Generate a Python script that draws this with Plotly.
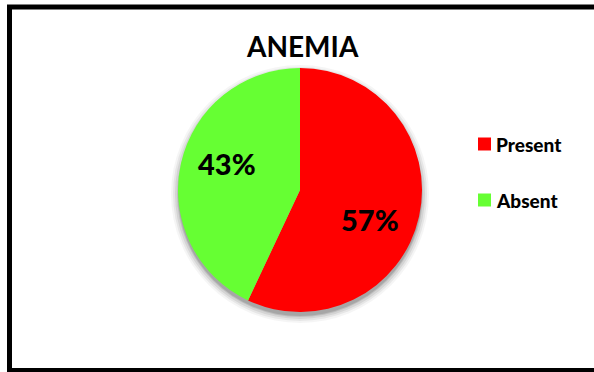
import plotly.graph_objects as go

# Anemia status share (percent)
labels = ["Present", "Absent"]
values = [57, 43]
colors = ["#FF0000", "#66FF33"]
title_text = "ANEMIA"

W, H = 594, 372
FONT = "Lato"


def px(x):
    return x / W


def py(y):
    return 1 - y / H


# pie placement in pixels: centre and radius
cx, cy, r = 300, 190, 122

fig = go.Figure()
fig.add_trace(go.Pie(
    labels=labels,
    values=values,
    marker=dict(colors=colors, line=dict(width=0)),
    sort=False,
    direction="clockwise",
    rotation=0,
    textinfo="none",
    hoverinfo="label+percent",
    showlegend=False,
    domain=dict(x=[px(cx - r), px(cx + r)], y=[py(cy + r), py(cy - r)]),
))

shapes = []
# soft drop shadow under the pie
for grow, op in [(7, 0.04), (5, 0.06), (3, 0.08), (1, 0.10), (0, 0.12)]:
    rr = r + grow
    shapes.append(dict(
        type="circle", xref="paper", yref="paper", layer="below",
        x0=px(cx - rr), x1=px(cx + rr),
        y0=py(cy + 4 + rr), y1=py(cy + 4 - rr),
        fillcolor=f"rgba(0,0,0,{op})", line=dict(width=0),
    ))

# outer frame
shapes.append(dict(
    type="rect", xref="paper", yref="paper",
    x0=px(9.5), x1=px(600), y0=py(370.5), y1=py(7),
    line=dict(color="black", width=5), fillcolor="rgba(0,0,0,0)",
))

annotations = [
    dict(text=f"<b>{title_text}</b>", x=px(302), y=py(46), xref="paper", yref="paper",
         xanchor="center", yanchor="middle", showarrow=False,
         font=dict(family=FONT, size=28, color="black", weight=900)),
]

# percentage labels inside the slices
label_pos = [(370, 219), (227, 163)]
for v, (lx, ly) in zip(values, label_pos):
    annotations.append(dict(
        text=f"{v}%", x=px(lx), y=py(ly), xref="paper", yref="paper",
        xanchor="center", yanchor="middle", showarrow=False,
        font=dict(family=FONT, size=29, color="black", weight=900),
    ))

# legend entries
legend_y = [144, 200]
for lab, col, ly in zip(labels, colors, legend_y):
    shapes.append(dict(
        type="rect", xref="paper", yref="paper",
        x0=px(478), x1=px(491), y0=py(ly + 6.5), y1=py(ly - 6.5),
        fillcolor=col, line=dict(width=0),
    ))
    annotations.append(dict(
        text=lab, x=px(494), y=py(ly), xref="paper", yref="paper",
        xanchor="left", yanchor="middle", showarrow=False,
        font=dict(family=FONT, size=19, color="black", weight=900),
    ))

fig.update_layout(
    width=W, height=H,
    margin=dict(l=0, r=0, t=0, b=0),
    paper_bgcolor="white", plot_bgcolor="white",
    shapes=shapes, annotations=annotations,
)

fig.write_html("out.html")
